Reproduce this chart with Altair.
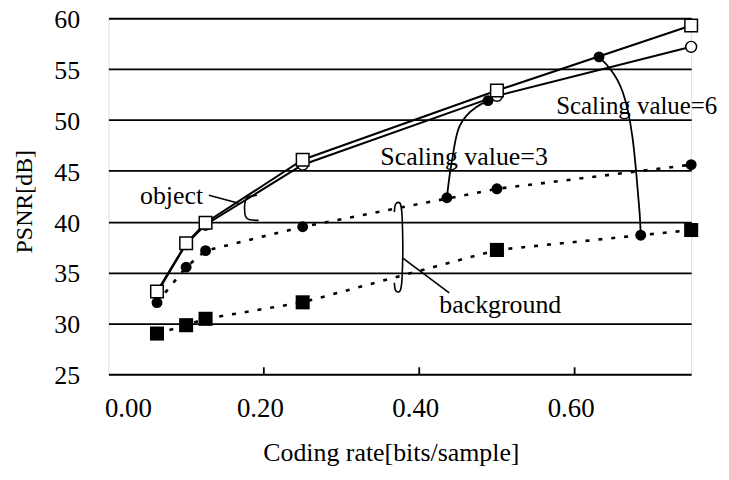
import altair as alt
import pandas as pd

# ---- data ----
rates = [0.0625, 0.1, 0.125, 0.25, 0.5, 0.75]
object_s6 = [33.14, 37.87, 39.89, 46.09, 52.89, 59.29]
object_s3 = [33.0, 37.8, 39.7, 45.6, 52.37, 57.19]
background_s3 = [32.04, 35.53, 37.15, 39.5, 43.23, 45.6]
background_s6 = [29.0, 29.82, 30.45, 32.07, 37.22, 39.18]

x_ticks = [0.0, 0.2, 0.4, 0.6]
y_ticks = [25, 30, 35, 40, 45, 50, 55, 60]
inner_ticks = [0.2, 0.4, 0.6]

# annotation paths (data coordinates)
curve6_x = [0.6314, 0.6455, 0.6626, 0.6754, 0.6818, 0.6839, 0.6851]
curve6_y = [56.2, 55.14, 53.18, 48.63, 42.43, 40.84, 38.67]
curve3_x = [0.4885, 0.4727, 0.4599, 0.4514, 0.4471, 0.4429, 0.4386, 0.4356]
curve3_y = [51.9, 51.30, 50.42, 49.44, 48.30, 46.34, 44.39, 42.35]
obj_brace_x = [0.1911, 0.1805, 0.1757, 0.1749, 0.1757, 0.1805, 0.1933]
obj_brace_y = [42.6, 42.5, 42.2, 41.31, 40.43, 40.13, 40.13]
obj_leader_x = [0.1293, 0.1677]
obj_leader_y = [42.6, 41.81]
bg_brace_x = [0.368, 0.3686, 0.3737, 0.3789, 0.3789, 0.3737, 0.3686, 0.368]
bg_brace_y = [40.94, 41.81, 41.96, 41.72, 33.31, 33.02, 33.16, 34.0]
bg_leader_x = [0.3789, 0.4386]
bg_leader_y = [36.41, 32.99]
dots_x = [0.6314, 0.6851, 0.4885, 0.4356]
dots_y = [56.2, 38.67, 51.9, 42.35]

labels = ["object", "Scaling value=3", "Scaling value=6", "background"]
labels_x = [0.0406, 0.5655, 0.5763, 0.4258]
labels_y = [41.72, 45.53, 50.58, 31.06]
labels_align = ["left", "right", "left", "left"]
labels_size = [26, 26, 25, 26]

FONT = "Liberation Serif"

xs = alt.Scale(domain=[0, 0.75], nice=False, zero=False)
ys = alt.Scale(domain=[25, 60], nice=False, zero=False)

xaxis = alt.Axis(values=x_ticks, format=".2f", grid=False, domain=False, ticks=False,
                 labelFont=FONT, labelFontSize=27, labelColor="black", labelPadding=21,
                 labelOffset=-4,
                 title="Coding rate[bits/sample]", titleFont=FONT, titleFontSize=26,
                 titleFontWeight="normal", titleColor="black",
                 titleX=284, titleY=87, titleBaseline="alphabetic", titleAlign="center")
yaxis = alt.Axis(values=y_ticks, grid=True, gridColor="black", gridWidth=1.8,
                 gridOpacity=1, domain=False, ticks=False,
                 labelFont=FONT, labelFontSize=26, labelColor="black", labelPadding=29,
                 labelBaseline="middle", labelOffset=1.5,
                 title="PSNR[dB]", titleFont=FONT, titleFontSize=24,
                 titleFontWeight="normal", titleColor="black",
                 titleX=-84, titleY=184, titleAngle=270, titleAlign="center",
                 titleBaseline="middle")

X = alt.X("x:Q", scale=xs, axis=xaxis)
Y = alt.Y("y:Q", scale=ys, axis=yaxis)


def df(xv, yv):
    return pd.DataFrame({"x": xv, "y": yv, "o": list(range(len(xv)))})


layers = []

# inward ticks on the bottom axis
ticks_df = pd.DataFrame({"x": inner_ticks})
layers.append(alt.Chart(ticks_df).mark_rule(color="black", strokeWidth=1.8).encode(
    x=X, y=alt.value(358), y2=alt.value(351)))

# object lines (solid)
for vals in (object_s3, object_s6):
    layers.append(alt.Chart(df(rates, vals)).mark_line(color="black", strokeWidth=2).encode(
        x=X, y=Y, order="o:Q"))

# background lines (dotted)
for vals in (background_s3, background_s6):
    layers.append(alt.Chart(df(rates, vals)).mark_line(
        color="black", strokeWidth=2.6, strokeDash=[4, 9]).encode(x=X, y=Y, order="o:Q"))

# annotation curves
for cx, cy in ((curve6_x, curve6_y), (curve3_x, curve3_y)):
    layers.append(alt.Chart(df(cx, cy)).mark_line(
        color="black", strokeWidth=1.8, interpolate="basis").encode(x=X, y=Y, order="o:Q"))
for cx, cy in ((obj_brace_x, obj_brace_y), (bg_brace_x, bg_brace_y)):
    layers.append(alt.Chart(df(cx, cy)).mark_line(
        color="black", strokeWidth=1.6, interpolate="basis").encode(x=X, y=Y, order="o:Q"))
for cx, cy in ((obj_leader_x, obj_leader_y), (bg_leader_x, bg_leader_y)):
    layers.append(alt.Chart(df(cx, cy)).mark_line(
        color="black", strokeWidth=1.6).encode(x=X, y=Y, order="o:Q"))

# markers
layers.append(alt.Chart(df(rates, background_s3)).mark_point(
    shape="circle", filled=True, color="black", size=120, opacity=1).encode(x=X, y=Y))
layers.append(alt.Chart(df(rates, background_s6)).mark_point(
    shape="square", filled=True, color="black", size=200, opacity=1).encode(x=X, y=Y))
layers.append(alt.Chart(df(rates, object_s3)).mark_point(
    shape="circle", filled=True, fill="white", stroke="black", strokeWidth=1.5,
    size=120, opacity=1).encode(x=X, y=Y))
layers.append(alt.Chart(df(rates, object_s6)).mark_point(
    shape="square", filled=True, fill="white", stroke="black", strokeWidth=1.5,
    size=160, opacity=1).encode(x=X, y=Y))
layers.append(alt.Chart(df(dots_x, dots_y)).mark_point(
    shape="circle", filled=True, color="black", size=120, opacity=1).encode(x=X, y=Y))

# annotation texts
text_df = pd.DataFrame({"x": labels_x, "y": labels_y, "t": labels,
                        "a": labels_align, "s": labels_size})
for align in ("left", "right"):
    for size in sorted(set(labels_size)):
        sub = text_df[(text_df["a"] == align) & (text_df["s"] == size)]
        if len(sub) == 0:
            continue
        layers.append(alt.Chart(sub).mark_text(
            font=FONT, fontSize=size, color="black", align=align,
            baseline="alphabetic").encode(x=X, y=Y, text="t:N"))

chart = alt.layer(*layers).properties(
    width=586, height=358,
    autosize=alt.AutoSizeParams(type="none"),
    padding={"left": 101, "top": 9, "right": 30, "bottom": 94},
).configure_view(stroke="black", strokeWidth=2).configure(background="white")

chart.save("out.html", embed_options={"renderer": "svg", "actions": False})
